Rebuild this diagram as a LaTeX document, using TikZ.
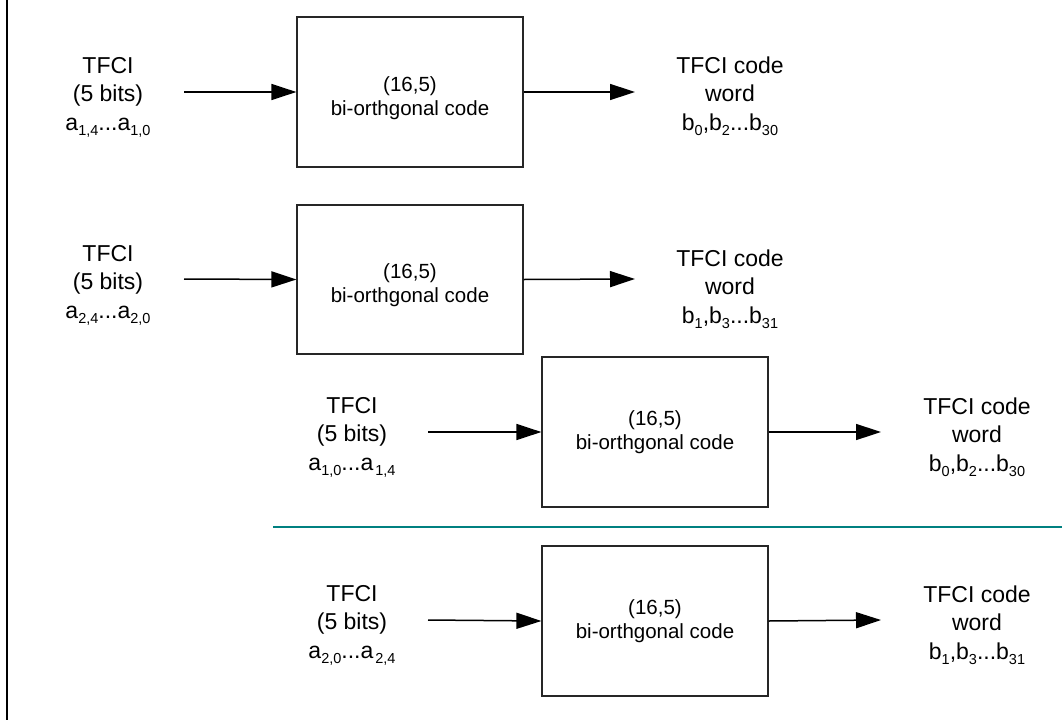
\documentclass[tikz,border=0pt]{standalone}
\usepackage{fontspec}
\setmainfont{Liberation Sans}
\usetikzlibrary{arrows.meta}
\definecolor{tealline}{RGB}{0,128,128}
\newcommand\sbs[1]{\raisebox{-5pt}{\fontsize{14.5}{14.5}\selectfont #1}}
\begin{document}
\begin{tikzpicture}[x=1pt,y=-1pt,
  codebox/.style={draw=black!85,line width=1.2pt,minimum width=226pt,minimum height=150pt,inner sep=0pt},
  boxtext/.style={align=center,font=\fontsize{20.5}{24.5}\selectfont,inner sep=0pt},
  iotext/.style={align=center,font=\fontsize{23}{28.5}\selectfont,inner sep=0pt},
  arr/.style={line width=1.5pt,-{Triangle[length=25pt,width=16pt]}},
  every node/.style={text=black}]
\useasboundingbox (0,0) rectangle (1062,720);
\fill[white] (0,0) rectangle (1062,720);

% left rule and separator
\coordinate (vtop) at (7,0);
\coordinate (vbot) at (7,720);
\draw[line width=2.6pt] (vtop) -- (vbot);
\coordinate (sepl) at (273,527);
\coordinate (sepr) at (1062,527);
\draw[tealline,line width=2.4pt] (sepl) -- (sepr);

% block 1
\node[codebox] (b1) at (410,92) {};
\node[boxtext] (t1) at (410,98) {(16,5)\\bi-orthgonal code};
\node[iotext] (in1) at (108,97) {TFCI\\(5 bits)\\a\sbs{1,4}...a\sbs{1,0}};
\node[iotext] (out1) at (730,96) {TFCI code\\word\\b\sbs{0},b\sbs{2}...b\sbs{30}};
\coordinate (s1) at (184,92);
\coordinate (e1) at (635,92);
\draw[arr] (s1) -- (b1.west);
\draw[arr] (b1.east) -- (e1);

% block 2
\node[codebox,minimum height=149pt] (b2) at (410,279.5) {};
\node[boxtext] (t2) at (410,285) {(16,5)\\bi-orthgonal code};
\node[iotext] (in2) at (108,285) {TFCI\\(5 bits)\\a\sbs{2,4}...a\sbs{2,0}};
\node[iotext] (out2) at (730,289) {TFCI code\\word\\b\sbs{1},b\sbs{3}...b\sbs{31}};
\coordinate (s2) at (184,279);
\coordinate (e2) at (635,279);
\draw[arr] (s2) -- (b2.west);
\draw[arr] (b2.east) -- (e2);

% block 3
\node[codebox] (b3) at (655,432) {};
\node[boxtext] (t3) at (655,432) {(16,5)\\bi-orthgonal code};
\node[iotext] (in3) at (352,437) {TFCI\\(5 bits)\\a\sbs{1,0}...a\kern2pt\sbs{1,4}};
\node[iotext] (out3) at (977,437) {TFCI code\\word\\b\sbs{0},b\sbs{2}...b\sbs{30}};
\coordinate (s3) at (428,432);
\coordinate (e3) at (881,432);
\draw[arr] (s3) -- (b3.west);
\draw[arr] (b3.east) -- (e3);

% block 4
\node[codebox] (b4) at (655,621) {};
\node[boxtext] (t4) at (655,621) {(16,5)\\bi-orthgonal code};
\node[iotext] (in4) at (352,625) {TFCI\\(5 bits)\\a\sbs{2,0}...a\kern2pt\sbs{2,4}};
\node[iotext] (out4) at (977,625) {TFCI code\\word\\b\sbs{1},b\sbs{3}...b\sbs{31}};
\coordinate (s4) at (428,620);
\coordinate (e4) at (881,620);
\draw[arr] (s4) -- (b4.west);
\draw[arr] (b4.east) -- (e4);
\end{tikzpicture}
\end{document}
